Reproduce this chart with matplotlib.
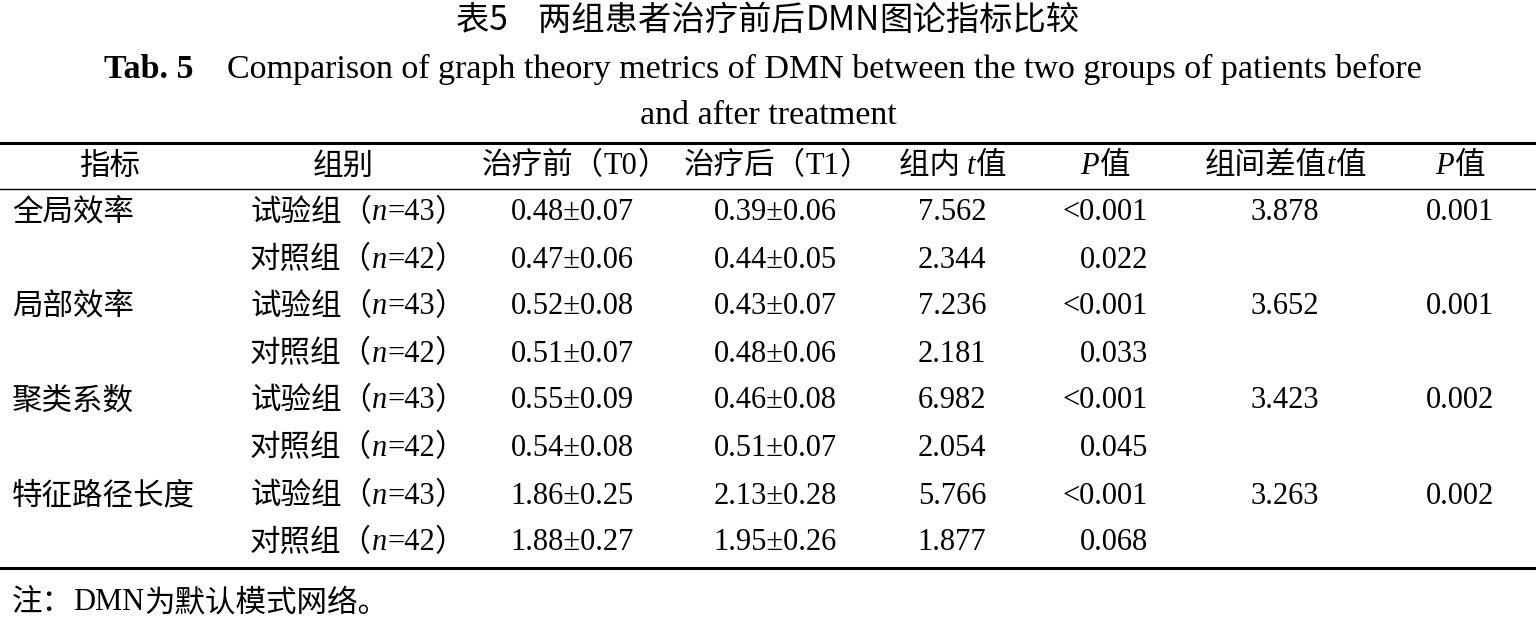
import matplotlib
matplotlib.use('Agg')
import matplotlib.pyplot as plt

FAM = ['Liberation Serif', 'Noto Sans CJK SC']
CJK = ['Noto Sans CJK SC', 'Liberation Serif']

metrics = ['全局效率', '局部效率', '聚类系数', '特征路径长度']
groups = [('试验组', '43'), ('对照组', '42')]
t0 = ['0.48±0.07', '0.47±0.06', '0.52±0.08', '0.51±0.07',
      '0.55±0.09', '0.54±0.08', '1.86±0.25', '1.88±0.27']
t1 = ['0.39±0.06', '0.44±0.05', '0.43±0.07', '0.48±0.06',
      '0.46±0.08', '0.51±0.07', '2.13±0.28', '1.95±0.26']
t_within = ['7.562', '2.344', '7.236', '2.181', '6.982', '2.054', '5.766', '1.877']
p_within = ['<0.001', '0.022', '<0.001', '0.033', '<0.001', '0.045', '<0.001', '0.068']
t_between = ['3.878', '3.652', '3.423', '3.263']
p_between = ['0.001', '0.001', '0.002', '0.002']

fig = plt.figure(figsize=(15.36, 6.2), dpi=100)
ax = fig.add_axes([0, 0, 1, 1])
ax.set_xlim(0, 1536)
ax.set_ylim(620, 0)
ax.axis('off')
renderer = fig.canvas.get_renderer()
FS = 22


def place(pieces, x, y, ha='left', size=FS):
    # pieces: list of (text, family, style, weight)
    objs = []
    for s, fam, st, wt in pieces:
        t = ax.text(0, y, s, family=fam, style=st, weight=wt, fontsize=size,
                    va='center', ha='left')
        objs.append(t)
    widths = [o.get_window_extent(renderer).width for o in objs]
    total = sum(widths)
    if ha == 'center':
        x0 = x - total / 2
    elif ha == 'right':
        x0 = x - total
    else:
        x0 = x
    for o, w in zip(objs, widths):
        o.set_x(x0)
        x0 += w


def p(s, st='normal', wt='normal', fam=FAM):
    return (s, fam, st, wt)


# title
place([p('表5    两组患者治疗前后', fam=CJK), p('DMN', fam=CJK), p('图论指标比较', fam=CJK)],
      768, 20, 'center', 24)
place([p('Tab. 5', wt='bold'), p('    Comparison of graph theory metrics of DMN between the two groups of patients before')],
      763, 69, 'center', 24.5)
place([p('and after treatment')], 768, 116, 'center', 24.5)

# rules
ax.plot([0, 1536], [143, 143], color='black', lw=2.2)
ax.plot([0, 1536], [189, 189], color='black', lw=1.0)
ax.plot([0, 1536], [568, 568], color='black', lw=2.2)

# header
hy = 166
place([p('指标', fam=CJK)], 110, hy, 'center')
place([p('组别', fam=CJK)], 343, hy, 'center')
place([p('治疗前（', fam=CJK), p('T0'), p('）', fam=CJK)], 575, hy, 'center')
place([p('治疗后（', fam=CJK), p('T1'), p('）', fam=CJK)], 777, hy, 'center')
place([p('组内 ', fam=CJK), p('t', 'italic'), p('值', fam=CJK)], 952, hy, 'center')
place([p('P', 'italic'), p('值', fam=CJK)], 1105, hy, 'center')
place([p('组间差值', fam=CJK), p('t', 'italic'), p('值', fam=CJK)], 1285, hy, 'center')
place([p('P', 'italic'), p('值', fam=CJK)], 1460, hy, 'center')

row_y = [213, 260, 307, 354, 401, 448, 496, 543]
for i, y in enumerate(row_y):
    g, n = groups[i % 2]
    if i % 2 == 0:
        place([p(metrics[i // 2], fam=CJK)], 12, y)
        place([p(t_between[i // 2])], 1285, y, 'center')
        place([p(p_between[i // 2])], 1460, y, 'center')
    place([p(g + '（', fam=CJK), p('n', 'italic'), p('=' + n), p('）', fam=CJK)], 250, y)
    place([p(t0[i])], 572, y, 'center')
    place([p(t1[i])], 775, y, 'center')
    place([p(t_within[i])], 952, y, 'center')
    place([p(p_within[i])], 1148, y, 'right')

place([p('注：', fam=CJK), p('DMN'), p('为默认模式网络。', fam=CJK)], 12, 603)

fig.savefig('out.png', dpi=100)
